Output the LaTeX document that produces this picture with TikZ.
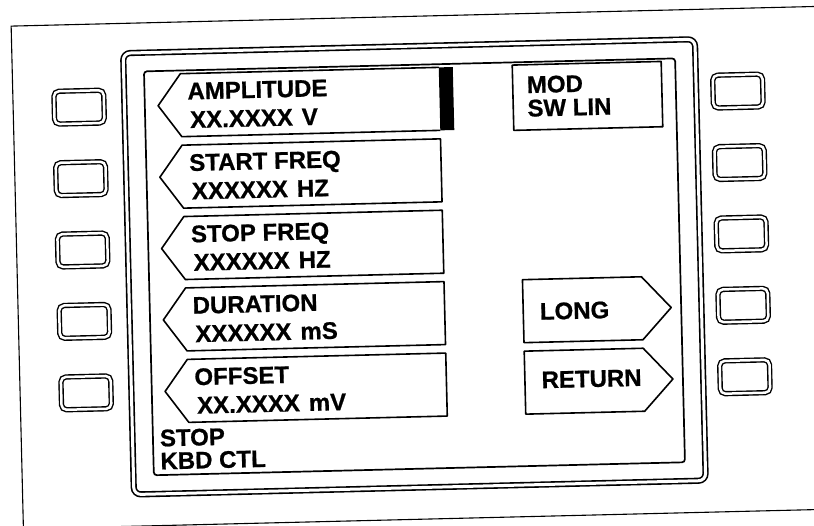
\documentclass[tikz,border=0pt]{standalone}
\usepackage{fontspec}
\setmainfont{Liberation Sans}[BoldFeatures={FakeBold=0.8}]
\begin{document}
\begin{tikzpicture}[x=1pt,y=-1pt,
  frameline/.style={line width=1.1pt},
  bezel/.style={draw, line width=1.6pt, double=white, double distance=3pt, rounded corners=7pt},
  screen/.style={draw, line width=1.7pt, rounded corners=3pt},
  btn/.style={draw, line width=1.4pt, double=white, double distance=2.5pt, rounded corners=5pt,
              minimum width=49.8pt, minimum height=32.8pt, inner sep=0pt},
  keyline/.style={line width=1.6pt, line join=round},
  lab/.style={font=\bfseries\fontsize{24}{28}\selectfont, inner sep=0pt, anchor=base west,
              text height=17.5pt, text depth=0pt},
  twoline/.style={font=\bfseries\fontsize{24}{23}\selectfont, inner sep=0pt, anchor=south west,
              align=left}]
\useasboundingbox (0,0) rectangle (814,525);
\clip (0,0) rectangle (814,525);
\begin{scope}[rotate around={1.4:(407,262)}, transform shape]
  % outer panel frame
  \draw[frameline] (17,560) -- (17,16.5) -- (900,16.5);
  \draw[frameline] (17,519.5) -- (900,519.5);
  % display bezel and screen
  \path[bezel] (128.3,46.3) rectangle (700.3,487.8);
  \path[screen] (148.7,65) rectangle (680,469);
  % left buttons
  \node[btn] (L1) at (83,99.2) {};
  \node[btn] (L2) at (83,170.7) {};
  \node[btn] (L3) at (83,242.1) {};
  \node[btn] (L4) at (83,313.5) {};
  \node[btn] (L5) at (83,385) {};
  % right buttons
  \node[btn] (R1) at (742,99.2) {};
  \node[btn] (R2) at (742,170.7) {};
  \node[btn] (R3) at (742,242.1) {};
  \node[btn] (R4) at (742,313.5) {};
  \node[btn] (R5) at (742,385) {};
  % left soft key labels
  \draw[keyline] (443.5,68.2) -- (185,68.2) -- (162,99.7) -- (185,131.2) -- (443.5,131.2);
  \fill (443.5,68.2) rectangle (457.5,131.2);
  \draw[keyline] (443.5,139.7) -- (185,139.7) -- (162,171.2) -- (185,202.7) -- (443.5,202.7) -- cycle;
  \draw[keyline] (443.5,211.1) -- (185,211.1) -- (162,242.6) -- (185,274.1) -- (443.5,274.1) -- cycle;
  \draw[keyline] (443.5,282.5) -- (185,282.5) -- (162,314) -- (185,345.5) -- (443.5,345.5) -- cycle;
  \draw[keyline] (443.5,354) -- (185,354) -- (162,385.5) -- (185,417) -- (443.5,417) -- cycle;
  \node[lab] (a1) at (191.5,94.2) {AMPLITUDE};
  \node[lab] (a2) at (193.5,122.7) {XX.XXXX\hspace{9pt}V};
  \node[lab] (b1) at (191.5,165.7) {START FREQ};
  \node[lab] (b2) at (193.5,194.2) {XXXXXX\hspace{9pt}HZ};
  \node[lab] (c1) at (191.5,237.1) {STOP FREQ};
  \node[lab] (c2) at (193.5,265.6) {XXXXXX\hspace{9pt}HZ};
  \node[lab] (d1) at (191.5,308.5) {DURATION};
  \node[lab] (d2) at (193.5,337) {XXXXXX\hspace{9pt}mS};
  \node[lab] (e1) at (191.5,380) {OFFSET};
  \node[lab] (e2) at (193.5,408.5) {XX.XXXX\hspace{9pt}mV};
  % mode box
  \draw[keyline] (517,67.7) rectangle (666,133);
  \node[twoline, font=\bfseries\fontsize{24}{23.5}\selectfont] (m) at (531,120) {MOD\\SW LIN};
  % right soft key labels
  \draw[keyline] (522,282.5) -- (641,282.5) -- (670,314) -- (641,345.5) -- (522,345.5) -- cycle;
  \draw[keyline] (522,354) -- (641,354) -- (670,385.5) -- (641,417) -- (522,417) -- cycle;
  \node[lab] (r1) at (538.5,323) {LONG};
  \node[lab] (r2) at (538.5,391.5) {RETURN};
  % status
  \node[twoline] (s) at (155.5,463.8) {STOP\\KBD CTL};
\end{scope}
\end{tikzpicture}
\end{document}
